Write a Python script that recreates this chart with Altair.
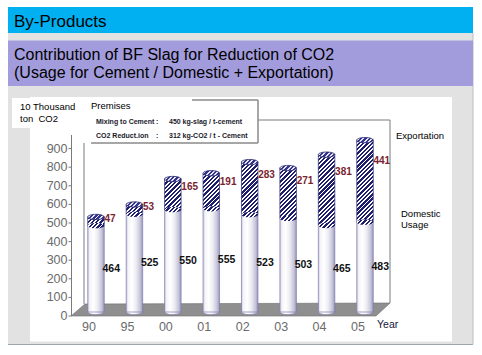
import math
import altair as alt
import pandas as pd

# ---------------- data ----------------
years = ["90", "95", "00", "01", "02", "03", "04", "05"]
domestic = [464, 525, 550, 555, 523, 503, 465, 483]
exportation = [47, 53, 165, 191, 283, 271, 381, 441]
y_ticks = [0, 100, 200, 300, 400, 500, 600, 700, 800, 900]

header_text = "By-Products"
title_lines = ["Contribution of BF Slag for Reduction of CO2",
               "(Usage for Cement / Domestic + Exportation)"]
unit_lines = ["10 Thousand", "ton\u00a0\u00a0CO2"]
premises_title = "Premises"
premises_keys = ["Mixing to Cement", "CO2 Reduct.ion"]
premises_sep = ":"
premises_vals = ["450 kg-slag / t-cement", "312 kg-CO2 / t - Cement"]
export_label = "Exportation"
domestic_label = ["Domestic", "Usage"]
x_title = "Year"

# ---------------- layout ----------------
OX, OY = 72, 126          # plot origin in page pixels
W, H = 317, 186
YMAX = 1000
PX = H / YMAX
STEP = 38.43
BAR_W = 16.5
P_IN = 1 - BAR_W / STEP
P_OUT = (24 - BAR_W / 2) / STEP
FONT = "Liberation Sans"
ELL = "M-1,0A1,0.32,0,1,0,1,0A1,0.32,0,1,0,-1,0Z"

df = pd.DataFrame({"year": years, "domestic": domestic, "exportation": exportation})


def hatch(w, h, period=4.3, dark="#1f1f6e", light="#ffffff", frac=0.55):
    k = (w + h) / (w * w + h * h)
    n = max(1.0, (w + h) / period)
    stops = []
    for i in range(math.ceil(n)):
        a = min(i / n, 1)
        b = min((i + frac) / n, 1)
        c = min((i + 1) / n, 1)
        stops += [{"offset": a, "color": dark}, {"offset": b, "color": dark},
                  {"offset": b, "color": light}, {"offset": c, "color": light}]
    return {"gradient": "linear", "x1": 0, "y1": 0, "x2": w * k, "y2": h * k, "stops": stops}


DOM_GRAD = {"gradient": "linear", "x1": 0, "y1": 0, "x2": 1, "y2": 0,
            "stops": [{"offset": 0, "color": "#c9c7dc"}, {"offset": 0.12, "color": "#f4f4f8"},
                      {"offset": 0.35, "color": "#ffffff"}, {"offset": 0.6, "color": "#ececf2"},
                      {"offset": 0.85, "color": "#c6c4da"}, {"offset": 1, "color": "#9a97bd"}]}

one = alt.Data(values=[{"k": 1}])


def rect(x1, y1, x2, y2, **mk):
    return alt.Chart(one).mark_rect(**mk).encode(
        x=alt.value(x1 - OX), x2=alt.value(x2 - OX), y=alt.value(y1 - OY), y2=alt.value(y2 - OY))


def rule(x1, y1, x2, y2, **mk):
    return alt.Chart(one).mark_rule(**mk).encode(
        x=alt.value(x1 - OX), x2=alt.value(x2 - OX), y=alt.value(y1 - OY), y2=alt.value(y2 - OY))


def text(s, x, y, size, color="#000000", weight="normal", align="left", baseline="alphabetic"):
    return alt.Chart(one).mark_text(text=s, align=align, baseline=baseline, font=FONT,
                                    fontSize=size, color=color, fontWeight=weight).encode(
        x=alt.value(x - OX), y=alt.value(y - OY))


layers = []
# backgrounds
layers.append(rect(8, 33, 473, 344.5, fill="#e2e2e2"))
layers.append(rule(8, 344.5, 473, 344.5, color="#9aa5ae", strokeWidth=1.2))
layers.append(rule(473, 33, 473, 344.5, color="#b8c0c6", strokeWidth=1))
layers.append(rect(8, 7, 473, 33, fill="#00b0f0"))
layers.append(rect(8, 40.5, 473, 86, fill="#a39cdc"))
layers.append(rect(30, 97, 452, 341.5, fill="#ffffff"))
layers.append(rect(12, 98, 31, 128, fill="#ffffff"))

# titles
layers.append(text(header_text, 14, 26.5, 17))
layers.append(text(title_lines[0], 14, 59.5, 16))
layers.append(text(title_lines[1], 14, 77.5, 16))

# back wall + floor
layers.append(rule(84, 143, 84, 304, color="#7a7a7a", strokeWidth=1))
layers.append(rule(258, 120, 390, 120, color="#7a7a7a", strokeWidth=1))
layers.append(rule(390, 120, 390, 303, color="#7a7a7a", strokeWidth=1))
layers.append(alt.Chart(one).mark_point(
    shape="M-159,6L146,6L160,-7L-145,-6Z", size=4, filled=True, opacity=1,
    fill="#8f8f8f", stroke="#6c6c6c", strokeWidth=0.6).encode(
    x=alt.value(230 - OX), y=alt.value(310 - OY)))

# premises box
layers.append(rect(88, 100, 258, 143, fill="#ffffff"))
layers.append(rule(192, 100, 258, 100, color="#8a8a8a", strokeWidth=1.5))
layers.append(rule(258, 100, 258, 143, color="#8a8a8a", strokeWidth=1.5))
layers.append(rule(91, 143, 258, 143, color="#8a8a8a", strokeWidth=1.5))
layers.append(text(premises_title, 91, 109, 9.5))
for key, val, yy in zip(premises_keys, premises_vals, [124, 137.5]):
    layers.append(text(key, 96, yy, 7, color="#1a1a2a", weight="bold"))
    layers.append(text(premises_sep, 156, yy, 7, color="#1a1a2a", weight="bold"))
    layers.append(text(val, 169, yy, 7, color="#1a1a2a", weight="bold"))

# unit label
layers.append(text(unit_lines[0], 20, 110, 9.5))
layers.append(text(unit_lines[1], 20, 122, 9.5))

# series labels
layers.append(text(export_label, 396, 135.7, 9.5, baseline="middle"))
layers.append(text(domestic_label[0], 401, 214, 9.5, baseline="middle"))
layers.append(text(domestic_label[1], 401, 225, 9.5, baseline="middle"))
layers.append(text(x_title, 377, 325, 10.5, color="#14143a", baseline="middle"))

# ---------------- bars ----------------
base = alt.Chart(df).transform_calculate(
    total="datum.domestic + datum.exportation",
    zero="0",
    dmid="datum.domestic / 2",
    elab="datum.domestic + 0.75 * datum.exportation",
)
xenc = alt.X("year:N", sort=years,
             scale=alt.Scale(domain=years, paddingInner=P_IN, paddingOuter=P_OUT), axis=None)
yscale = alt.Scale(domain=[0, YMAX], nice=False, zero=False)


def Y(f):
    return alt.Y(f, scale=yscale, axis=None)


# bottom ellipse
layers.append(base.mark_point(shape=ELL, size=BAR_W ** 2, filled=True, opacity=1,
                              fill=DOM_GRAD, stroke="#7e7bab", strokeWidth=0.7).encode(
    x=xenc, y=Y("zero:Q")))
# domestic cylinder
layers.append(base.mark_bar(fill=DOM_GRAD, stroke="#7e7bab", strokeWidth=0.7).encode(
    x=xenc, y=Y("domestic:Q"), y2=alt.Y2("zero:Q")))
# exportation cylinder (hatched)
conds = [{"test": f"datum.year === '{yr}'", "value": hatch(BAR_W, ex * PX)}
         for yr, ex in zip(years, exportation)]
layers.append(base.mark_bar(stroke="#2a2a70", strokeWidth=0.7).encode(
    x=xenc, y=Y("total:Q"), y2=alt.Y2("domestic:Q"),
    fill=alt.value("#1f1f6e", condition=conds)))
# middle ellipse (bottom of hatched part)
layers.append(base.mark_point(shape=ELL, size=BAR_W ** 2, filled=True, opacity=1,
                              fill=hatch(BAR_W, 5.3), strokeWidth=0).encode(
    x=xenc, y=Y("domestic:Q")))
# top ellipse
layers.append(base.mark_point(shape=ELL, size=BAR_W ** 2, filled=True, opacity=1,
                              fill=hatch(BAR_W, 5.3, dark="#33338a", light="#e6e6f4"),
                              stroke="#2a2a70", strokeWidth=0.8).encode(
    x=xenc, y=Y("total:Q")))

# value labels
layers.append(base.mark_text(align="left", baseline="middle", dx=6.5, font=FONT,
                             fontSize=10.5, fontWeight="bold", color="#111111").encode(
    x=xenc, y=Y("dmid:Q"), text=alt.Text("domestic:Q", format="d")))
layers.append(base.mark_text(align="left", baseline="middle", dx=8.5, font=FONT,
                             fontSize=10, fontWeight="bold", color="#7a2430").encode(
    x=xenc, y=Y("elab:Q"), text=alt.Text("exportation:Q", format="d")))

# x labels
layers.append(base.mark_text(align="center", baseline="middle", dx=-7, font=FONT,
                             fontSize=12.5, color="#6b6b6b").encode(
    x=xenc, y=alt.value(327 - OY), text="year:N"))

# y axis
ticks = alt.Chart(pd.DataFrame({"v": y_ticks}))
layers.append(rule(71.5, 135, 71.5, 316, color="#7a7a7a", strokeWidth=1))
layers.append(ticks.transform_calculate(vf=f"datum.v - {4 / PX}").mark_rule(
    color="#7a7a7a", strokeWidth=1).encode(
    x=alt.value(-3.5), x2=alt.value(-0.5), y=Y("vf:Q")))
layers.append(ticks.mark_text(align="right", baseline="middle", dy=4, font=FONT,
                              fontSize=12.5, color="#6b6b6b").encode(
    x=alt.value(-4.5), y=Y("v:Q"), text=alt.Text("v:Q", format="d")))

chart = alt.layer(*layers).properties(
    width=W, height=H,
    autosize=alt.AutoSizeParams(type="none"),
    padding={"left": OX, "top": OY, "right": 482 - OX - W, "bottom": 355 - OY - H},
    background="#ffffff",
).configure_view(stroke=None)

chart.save("out.html", embed_options={"renderer": "svg", "actions": False})
